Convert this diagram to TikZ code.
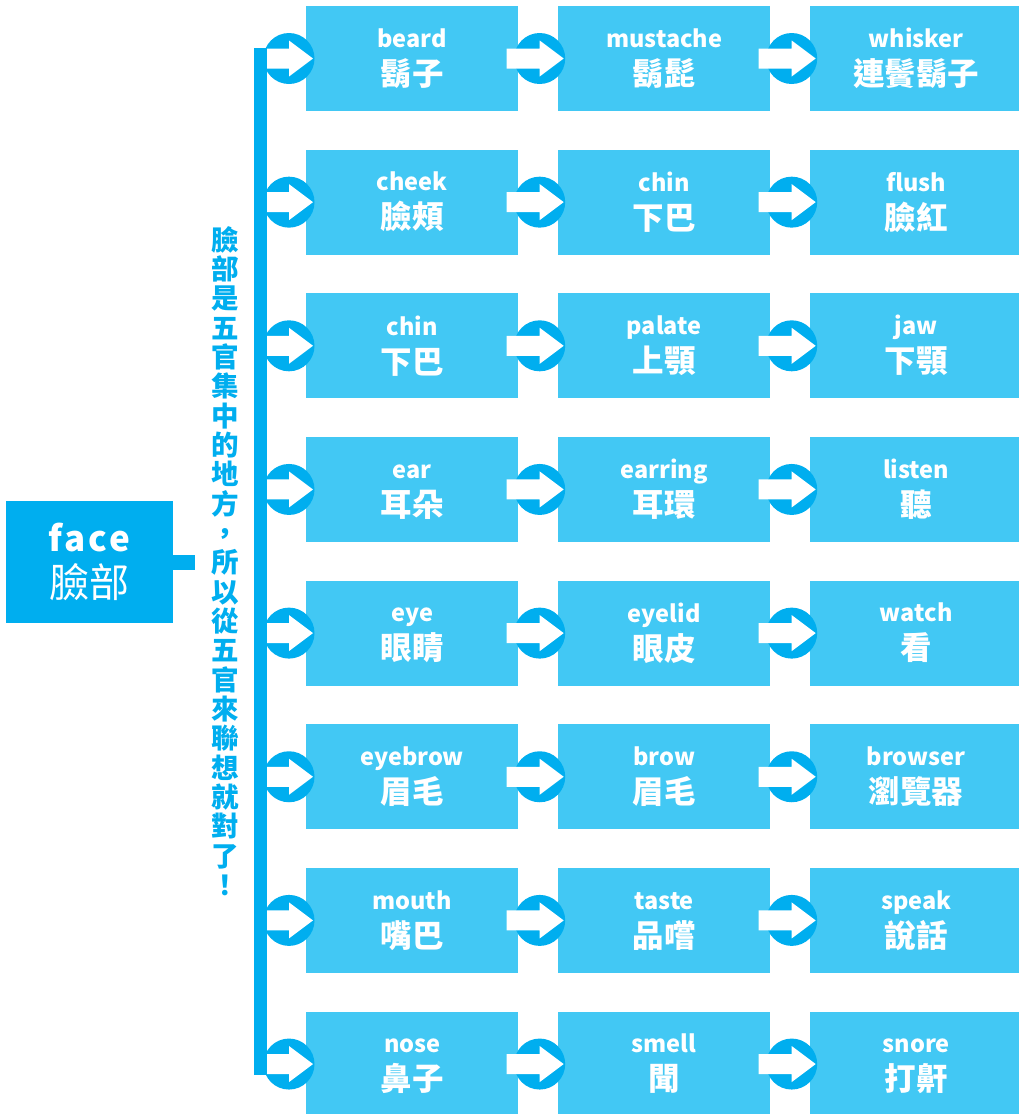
\documentclass[tikz,border=0pt]{standalone}
\usepackage{fontspec}
\newfontfamily\cjk{Noto Sans CJK TC}
\newfontfamily\cjkwide[LetterSpace=8]{Noto Sans CJK TC}
\usetikzlibrary{calc}
\definecolor{lightb}{RGB}{66,200,244}
\definecolor{darkb}{RGB}{0,174,239}
\newcommand\vstack[2]{\vbox{\baselineskip=#1\lineskiplimit=-100pt\relax\halign{\hfil##\hfil\cr#2\crcr}}}
\newcommand\pair[2]{\vstack{38pt}{\fontsize{23.5}{24}\selectfont\vphantom{bd}#1\cr\fontsize{31.5}{32}\selectfont\vphantom{鬍}#2}}
\newcommand\warrow[2]{\fill[white,shift={(#1)}] (#2,-10) -- (0,-10) -- (0,-18) -- (24,0) -- (0,18) -- (0,10) -- (#2,10) -- cycle;}
\begin{document}
\begin{tikzpicture}[x=1pt,y=-1pt,
  box/.style={fill=lightb, minimum width=212pt, minimum height=105pt, inner sep=0pt,
    anchor=west, text=white, font=\cjk\bfseries},
  knob/.style={circle, fill=darkb, minimum size=51pt, inner sep=0pt},
  facebox/.style={fill=darkb, minimum width=167pt, minimum height=122pt, inner sep=0pt,
    text=white},
  vtext/.style={text=darkb, inner sep=0pt, font=\cjk\bfseries\fontsize{27.5}{29.3}\selectfont},
  bar/.style={draw=darkb, line width=13pt},
  stub/.style={draw=darkb, line width=15pt}
]
\fill[white] (0,0) rectangle (1018,1114);
\useasboundingbox (0,0) rectangle (1018,1114);

% face box
\node[facebox] (face) at (89.5,562) {\vstack{46pt}{\cjkwide\bfseries\fontsize{35}{36}\selectfont face\cr\cjk\fontsize{40}{40}\selectfont 臉部}};
\coordinate (stubend) at (195,562);
\draw[stub] (face.east) -- (stubend);

% vertical note
\node[vtext] (note) at (225,561) {\vstack{29.33pt}{臉\cr 部\cr 是\cr 五\cr 官\cr 集\cr 中\cr 的\cr 地\cr 方\cr ，\cr 所\cr 以\cr 從\cr 五\cr 官\cr 來\cr 聯\cr 想\cr 就\cr 對\cr 了\cr ！}};

% boxes
\foreach \en/\zh [count=\i from 0] in {beard/鬍子, mustache/鬍髭, whisker/連鬢鬍子,
  cheek/臉頰, chin/下巴, flush/臉紅,
  chin/下巴, palate/上顎, jaw/下顎,
  ear/耳朵, earring/耳環, listen/聽,
  eye/眼睛, eyelid/眼皮, watch/看,
  eyebrow/眉毛, brow/眉毛, browser/瀏覽器,
  mouth/嘴巴, taste/品嚐, speak/說話,
  nose/鼻子, smell/聞, snore/打鼾}{
  \pgfmathtruncatemacro\r{\i/3}
  \pgfmathtruncatemacro\c{\i-3*\r}
  \node[box] (b\r\c) at ({306+252*\c},{58.5+143.65*\r}) {\pair{\en}{\zh}};
}

% knobs and arrows
\foreach \r in {0,...,7}{
  \node[knob] (k\r0) at ([xshift=-17pt]b\r0.west) {};
  \node[knob] (k\r1) at ($(b\r0.east)!0.5!(b\r1.west)+(1.5,0)$) {};
  \node[knob] (k\r2) at ($(b\r1.east)!0.5!(b\r2.west)+(1.5,0)$) {};
  \warrow{k\r0}{-26}
  \warrow{k\r1}{-33}
  \warrow{k\r2}{-33}
}

% vertical bar
\coordinate (bartop) at ($(k00)+(-28.5,-10.5)$);
\coordinate (barbot) at ($(k70)+(-28.5,10.5)$);
\draw[bar] (bartop) -- (barbot);
\end{tikzpicture}
\end{document}
